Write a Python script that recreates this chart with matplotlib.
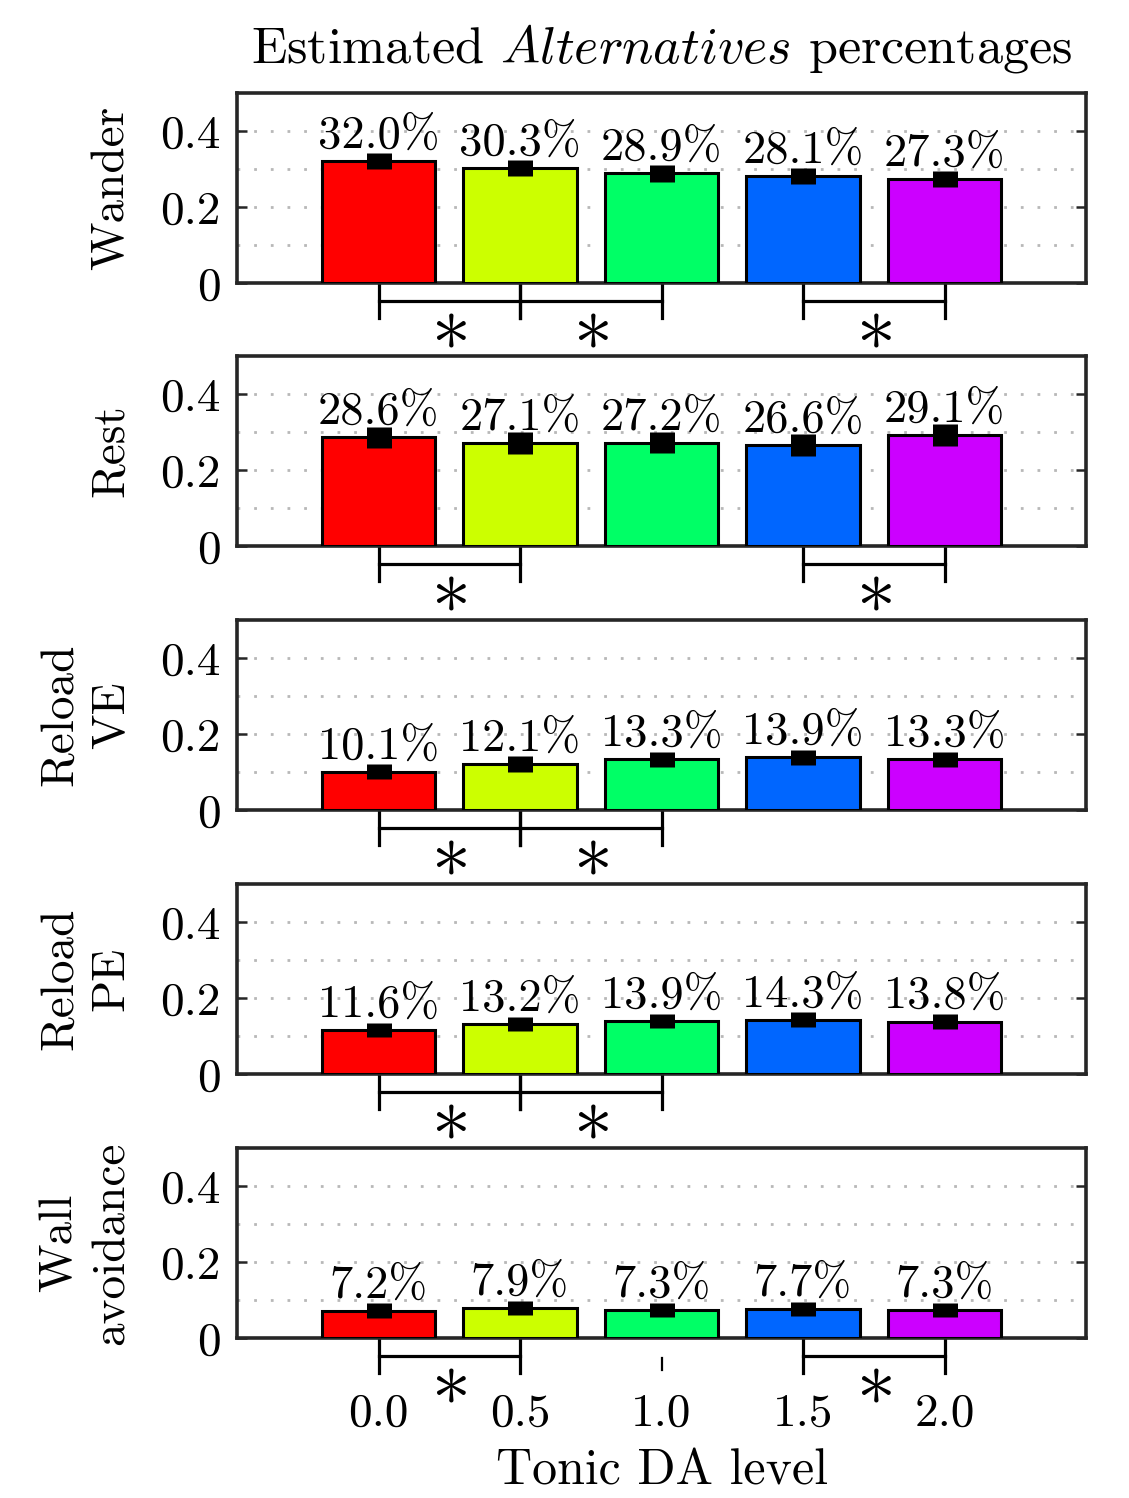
import numpy as np
import matplotlib
matplotlib.use("Agg")
from matplotlib import pyplot as plt

plt.rcParams['font.family'] = 'cmr10'
plt.rcParams['mathtext.fontset'] = 'cm'
plt.rcParams['axes.unicode_minus'] = False
plt.rcParams['axes.formatter.use_mathtext'] = True

# data
levels = [0.0, 0.5, 1.0, 1.5, 2.0]
level_labels = ["0.0", "0.5", "1.0", "1.5", "2.0"]
bar_colors = ["#ff0000", "#ccff00", "#00ff66", "#0066ff", "#cc00ff"]

panel_names = ["Wander", "Rest", "Reload\nVE", "Reload\nPE", "Wall\navoidance"]
wander = [0.320, 0.303, 0.289, 0.281, 0.273]
rest = [0.286, 0.271, 0.272, 0.266, 0.291]
reload_ve = [0.101, 0.121, 0.133, 0.139, 0.133]
reload_pe = [0.116, 0.132, 0.139, 0.143, 0.138]
wall = [0.072, 0.079, 0.073, 0.077, 0.073]
all_values = [wander, rest, reload_ve, reload_pe, wall]

# half height of the black error blocks
wander_err = [0.021, 0.021, 0.022, 0.021, 0.021]
rest_err = [0.027, 0.028, 0.028, 0.030, 0.029]
reload_ve_err = [0.020, 0.020, 0.020, 0.020, 0.020]
reload_pe_err = [0.019, 0.019, 0.019, 0.019, 0.019]
wall_err = [0.019, 0.019, 0.019, 0.019, 0.019]
all_errs = [wander_err, rest_err, reload_ve_err, reload_pe_err, wall_err]

# significant pairs (index of left / right bar)
wander_sig = [(0, 1), (1, 2), (3, 4)]
rest_sig = [(0, 1), (3, 4)]
reload_ve_sig = [(0, 1), (1, 2)]
reload_pe_sig = [(0, 1), (1, 2)]
wall_sig = [(0, 1), (3, 4)]
all_sig = [wander_sig, rest_sig, reload_ve_sig, reload_pe_sig, wall_sig]

fig = plt.figure(figsize=(11.29, 14.98), dpi=100)

left = 237 / 1129
width = (1086 - 237) / 1129
height = 190 / 1498
bottoms_px = [283, 546, 810, 1074, 1338]

axes = []
for i in range(5):
    ax = fig.add_axes([left, 1 - bottoms_px[i] / 1498, width, height])
    axes.append(ax)
    vals = all_values[i]
    ax.bar(levels, vals, width=0.4, color=bar_colors, edgecolor="black",
           linewidth=2.2, zorder=3)
    ax.errorbar(levels, vals, yerr=all_errs[i], fmt="none", ecolor="black",
                elinewidth=18, capsize=0, zorder=4)
    for x, v in zip(levels, vals):
        ax.text(x, v + 0.035, "%.1f%%" % (v * 100), ha="center", va="baseline",
                fontsize=33.5, zorder=5)

    ax.set_xlim(-0.5, 2.5)
    ax.set_ylim(0, 0.5)
    ax.set_yticks([0, 0.2, 0.4])
    ax.set_yticklabels(["0", "0.2", "0.4"])
    ax.set_yticks([0.1, 0.3], minor=True)
    ax.tick_params(axis="y", which="major", direction="in", length=7, width=1.8,
                   labelsize=34, pad=12, right=True, color="#262626")
    ax.tick_params(axis="y", which="minor", length=0, right=True)
    ax.grid(axis="y", which="both", linestyle=(0, (1, 5)), linewidth=2,
            color="#b8b8b8", zorder=0)
    for s in ax.spines.values():
        s.set_linewidth(2.6)
        s.set_color("#262626")
    ax.set_ylabel(panel_names[i], fontsize=34, labelpad=20, linespacing=1.3)

    # significance brackets
    for a, b in all_sig[i]:
        xa, xb = levels[a], levels[b]
        ax.plot([xa, xa], [-0.003, -0.092], color="black", lw=2.3, clip_on=False)
        ax.plot([xb, xb], [-0.003, -0.092], color="black", lw=2.3, clip_on=False)
        ax.plot([xa, xb], [-0.047, -0.047], color="black", lw=2.3, clip_on=False)
        ax.text((xa + xb) / 2, -0.12, r"$\ast$", ha="center", va="center",
                fontsize=56, clip_on=False)

    if i < 4:
        ax.set_xticks([])
    else:
        ax.set_xticks(levels)
        ax.set_xticklabels(level_labels)
        ax.tick_params(axis="x", length=0, labelsize=34, pad=40)
        ax.set_xlabel("Tonic DA level", fontsize=36, labelpad=10)
        ax.plot([1.0, 1.0], [-0.053, -0.084], color="black", lw=1.6, clip_on=False)

axes[0].set_title(r"Estimated $\mathit{Alternatives}$ percentages", fontsize=37.5, pad=22)

fig.align_ylabels(axes)
fig.savefig("out.png", dpi=100)
